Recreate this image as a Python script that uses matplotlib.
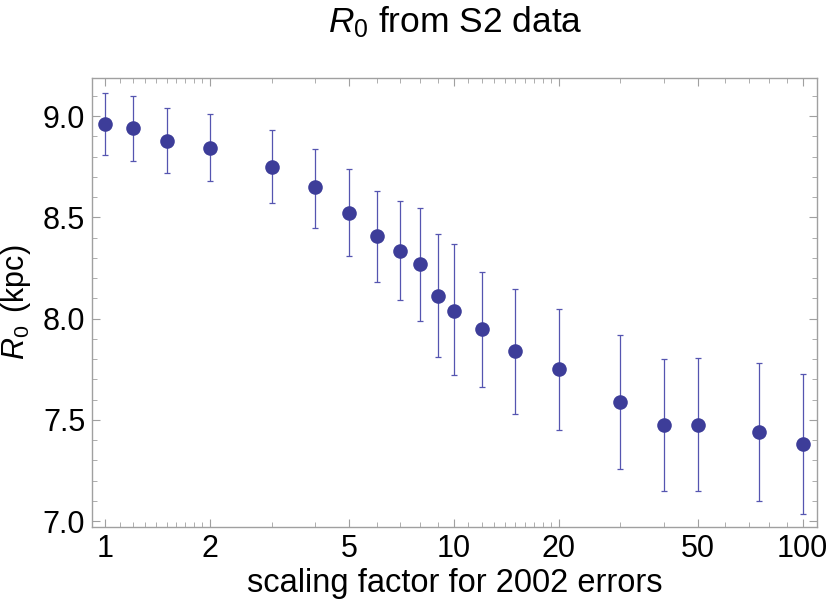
import numpy as np
import matplotlib
matplotlib.use("Agg")
import matplotlib.pyplot as plt
from matplotlib.ticker import FixedLocator, NullFormatter

plt.rcParams['font.family'] = ['Liberation Sans', 'DejaVu Sans']
plt.rcParams['mathtext.fontset'] = 'custom'
plt.rcParams['mathtext.rm'] = 'Liberation Sans'
plt.rcParams['mathtext.it'] = 'Liberation Sans:italic'

# scaling factor applied to the 2002 errors
scale = [1, 1.2, 1.5, 2, 3, 4, 5, 6, 7, 8, 9, 10, 12, 15, 20, 30, 40, 50, 75, 100]
# best-fit R0 (kpc) and upper / lower ends of the error bars
r0 = [8.96, 8.94, 8.88, 8.845, 8.75, 8.65, 8.52, 8.41, 8.335, 8.27,
      8.11, 8.04, 7.95, 7.84, 7.75, 7.59, 7.475, 7.475, 7.44, 7.38]
r0_hi = [9.115, 9.10, 9.04, 9.01, 8.93, 8.84, 8.74, 8.63, 8.58, 8.545,
         8.42, 8.37, 8.23, 8.145, 8.05, 7.92, 7.80, 7.805, 7.78, 7.725]
r0_lo = [8.81, 8.78, 8.72, 8.68, 8.57, 8.45, 8.31, 8.18, 8.09, 7.99,
         7.81, 7.72, 7.665, 7.53, 7.45, 7.26, 7.15, 7.15, 7.10, 7.035]

xticks = [1, 2, 5, 10, 20, 50, 100]
xminor = [1.1, 1.2, 1.3, 1.4, 1.5, 1.6, 1.7, 1.8, 1.9, 3, 4, 6, 7, 8, 9,
          11, 12, 13, 14, 15, 16, 17, 18, 19, 30, 40, 60, 70, 80, 90]
yticks = [7.0, 7.5, 8.0, 8.5, 9.0]

r0 = np.array(r0)
yerr = [r0 - np.array(r0_lo), np.array(r0_hi) - r0]

fig = plt.figure(figsize=(8.3, 6.06), dpi=100)
ax = fig.add_axes([0.111, 0.130, 0.873, 0.741])

ax.errorbar(scale, r0, yerr=yerr, fmt='none', ecolor='#5555b0',
            elinewidth=0.9, capsize=2, capthick=0.9)
ax.plot(scale, r0, 'o', color='#3d3d99', ms=10.5, mec='none')

ax.set_xscale('log')
ax.set_xlim(0.918, 109.7)
ax.set_ylim(6.97, 9.188)

ax.xaxis.set_major_locator(FixedLocator(xticks))
ax.xaxis.set_minor_locator(FixedLocator(xminor))
ax.set_xticklabels([str(t) for t in xticks])
ax.xaxis.set_minor_formatter(NullFormatter())
ax.set_yticks(yticks)
ax.set_yticklabels(['%.1f' % t for t in yticks])
ax.set_yticks(np.arange(7.0, 9.15, 0.1), minor=True)

for s in ax.spines.values():
    s.set_color('#a0a0a0')
    s.set_linewidth(1)
ax.tick_params(which='both', direction='in', top=True, right=True,
               color='#a0a0a0', labelsize=22, labelcolor='black')
ax.tick_params(which='major', length=6, pad=5)
ax.tick_params(which='minor', length=3.5)

ax.set_xlabel('scaling factor for 2002 errors', fontsize=23.5, labelpad=3)
ax.set_ylabel(r'$\mathit{R}_0\,$ (kpc)', fontsize=22, labelpad=7)
fig.text(0.548, 0.947, r'$\mathit{R}_0$ from S2 data', fontsize=25.5,
         ha='center', va='baseline')

fig.savefig('out.png', dpi=100)
